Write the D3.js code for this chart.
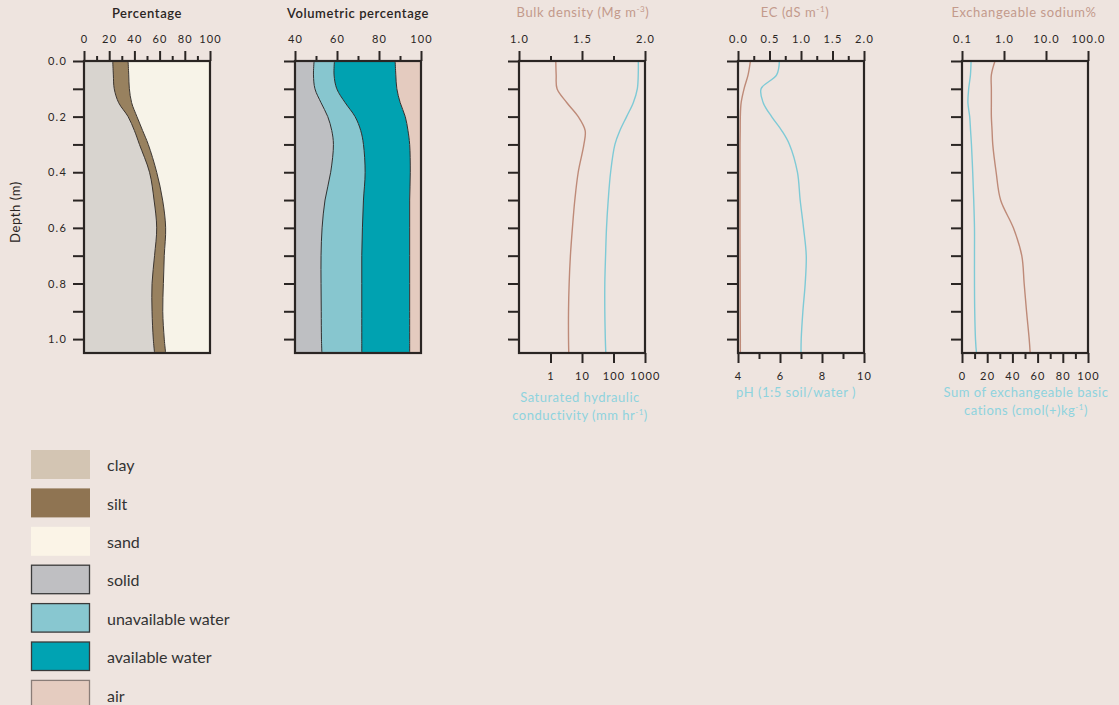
<!DOCTYPE html>
<html><head><meta charset="utf-8">
<script src="https://cdn.jsdelivr.net/npm/d3@7"></script>
<style>
html,body{margin:0;padding:0;background:#EEE4DF;}
svg{display:block;font-family:Lato,"Open Sans",sans-serif;}
</style></head><body>
<svg id="c" width="1119" height="705"></svg>
<script>
// ---- data ----
const depths    = [0, 0.05, 0.1, 0.15, 0.2, 0.25, 0.3, 0.4, 0.5, 0.6, 0.7, 0.8, 0.9, 1.0, 1.05];
// particle size (%)
const clay      = [22.8, 23.3, 24.0, 27.5, 35.0, 40.0, 44.0, 52.0, 55.6, 57.7, 56.0, 54.0, 54.0, 55.0, 56.0];
const silt      = [12.2, 12.2, 12.0, 10.3, 7.0, 6.5, 7.0, 5.7, 6.8, 7.1, 7.7, 9.0, 8.5, 8.7, 8.8];
const sand      = [65.0, 64.5, 64.0, 62.2, 58.0, 53.5, 49.0, 42.3, 37.6, 35.2, 36.3, 37.0, 37.5, 36.3, 35.2];
// volumetric (%)
const solid     = [49.1, 48.8, 49.5, 52.4, 55.6, 57.5, 58.3, 57.0, 54.3, 52.9, 52.4, 52.4, 52.5, 52.6, 52.8];
const unavail   = [9.7, 9.8, 10.4, 11.5, 13.0, 13.8, 14.3, 16.4, 18.3, 19.2, 19.4, 19.4, 19.3, 19.2, 19.0];
const avail     = [28.9, 29.4, 28.6, 26.2, 23.9, 22.5, 22.0, 21.5, 22.0, 22.5, 22.8, 22.8, 22.8, 22.8, 22.8];
const air       = [12.3, 12.0, 11.5, 9.9, 7.5, 6.2, 5.4, 5.1, 5.4, 5.4, 5.4, 5.4, 5.4, 5.4, 5.4];
// bulk density (Mg m-3) and Ksat (mm/hr)
const bulkDensity = [1.292, 1.295, 1.302, 1.38, 1.47, 1.525, 1.515, 1.47, 1.443, 1.424, 1.408, 1.398, 1.393, 1.393, 1.395];
const ksat        = [614, 610, 570, 425, 261, 160, 111, 81, 68, 60, 56, 53, 53, 55, 57];
// EC (dS/m) and pH
const ec          = [0.197, 0.16, 0.096, 0.05, 0.037, 0.035, 0.032, 0.032, 0.032, 0.032, 0.033, 0.034, 0.035, 0.037, 0.037];
const ph          = [5.97, 5.84, 5.10, 5.20, 5.60, 6.08, 6.45, 6.83, 6.96, 7.12, 7.25, 7.20, 7.09, 7.01, 7.00];
// ESP (%) and sum of exchangeable basic cations
const esp         = [0.61, 0.50, 0.50, 0.50, 0.50, 0.52, 0.54, 0.65, 0.83, 1.67, 2.65, 3.02, 3.44, 3.98, 4.2];
const cations     = [7.2, 6.7, 5.3, 4.7, 6.1, 6.8, 7.5, 8.5, 9.3, 9.9, 9.9, 9.9, 10.1, 10.7, 11.5];

// tick values / labels
const depthTicks   = [0,0.1,0.2,0.3,0.4,0.5,0.6,0.7,0.8,0.9,1.0];
const depthLabels  = ["0.0","","0.2","","0.4","","0.6","","0.8","","1.0"];
const pctMajor     = [0,20,40,60,80,100];
const pctMinor     = [10,30,50,70,90];
const volMajor     = [40,60,80,100];
const volMinor     = [50,70,90];
const bdMajor      = [1.0,1.5,2.0];
const bdMinor      = [1.25,1.75];
const ksatTicks    = [1,10,100,1000];
const ecMajor      = [0,0.5,1.0,1.5,2.0];
const ecMinor      = [0.25,0.75,1.25,1.75];
const phMajor      = [4,6,8,10];
const phMinor      = [5,7,9];
const espTicks     = [0.1,1,10,100];
const espLabels    = ["0.1","1.0","10.0","100.0"];
const catMajor     = [0,20,40,60,80,100];
const catMinor     = [10,30,50,70,90];

const legendNames  = ["clay","silt","sand","solid","unavailable water","available water","air"];

// ---- styles ----
const INK = "#2a2523";
const BROWN = "#BE8A78", CYAN = "#7ECAD6";
const BROWN_T = "#C39A8C", CYAN_T = "#8ED3DE";
const fillPct = ["#D8D4CF","#98815F","#F7F3E8"];
const fillVol = ["#BEBFC2","#87C6CF","#00A2B1","#E4CBBF"];
const legendFill = ["#D3C5B3","#8F7452","#FBF4E7","#BFBFC2","#88C7D0","#00A3B3","#E5CCC0"];
const legendStroke = [null,null,null,"#3a3a3a","#3a3a3a","#3a3a3a","#8a7d78"];

const svg = d3.select("#c");
const TOP = 61, BOT = 353, W = 126;
const y = d3.scaleLinear().domain([0,1.05]).range([TOP,BOT]);
const lefts = [84, 295, 519, 738, 962];
const curve = d3.curveCatmullRom.alpha(0.5);

function styleAxis(g){
  g.select(".domain").remove();
  g.selectAll(".tick line").attr("stroke",INK).attr("stroke-width",2);
  g.selectAll(".tick text").attr("fill",INK).attr("font-size",11).attr("letter-spacing","1.2px")
    .attr("font-family","Lato, 'Open Sans', sans-serif");
}
function topAxis(x, major, minor, fmt){
  if (minor.length) svg.append("g").attr("transform",`translate(0,${TOP})`)
    .call(d3.axisTop(x).tickValues(minor).tickSize(5).tickFormat("")).call(styleAxis);
  svg.append("g").attr("transform",`translate(0,${TOP})`)
    .call(d3.axisTop(x).tickValues(major).tickSize(10).tickPadding(8).tickFormat(fmt)).call(styleAxis);
}
function bottomAxis(x, major, minor, fmt){
  if (minor.length) svg.append("g").attr("transform",`translate(0,${BOT})`)
    .call(d3.axisBottom(x).tickValues(minor).tickSize(6).tickFormat("")).call(styleAxis);
  svg.append("g").attr("transform",`translate(0,${BOT})`)
    .call(d3.axisBottom(x).tickValues(major).tickSize(10).tickPadding(9).tickFormat(fmt)).call(styleAxis);
}
function leftAxis(left, labels){
  svg.append("g").attr("transform",`translate(${left},0)`)
    .call(d3.axisLeft(y).tickValues(depthTicks).tickSize(11).tickPadding(6)
      .tickFormat((d,i)=> labels ? depthLabels[i] : "")).call(styleAxis);
}
function frame(left){
  svg.append("rect").attr("x",left).attr("y",TOP).attr("width",W).attr("height",BOT-TOP)
    .attr("fill","none").attr("stroke",INK).attr("stroke-width",2.2);
}
function title(cx, yy, parts, color, weight){
  const t = svg.append("text").attr("x",cx).attr("y",yy).attr("text-anchor","middle")
    .attr("font-size",13).attr("fill",color).attr("letter-spacing","0.6px");
  if (weight) t.attr("font-weight",weight);
  parts.forEach(p=>{
    const ts = t.append("tspan").text(p.t);
    if (p.sup){ ts.attr("font-size",8).attr("baseline-shift","super"); }
  });
  return t;
}

function stackPanel(id, left, x, baseVal, topVal, series, fills, lineColor){
  svg.append("clipPath").attr("id",id).append("rect").attr("x",left).attr("y",TOP).attr("width",W).attr("height",BOT-TOP);
  const g = svg.append("g").attr("clip-path",`url(#${id})`);
  const bounds = [depths.map(()=>baseVal)];
  series.forEach(s=>{
    const prev = bounds[bounds.length-1];
    bounds.push(prev.map((v,i)=>v+s[i]));
  });
  series.forEach((s,k)=>{
    const lo = bounds[k], hi = bounds[k+1], last = k===series.length-1;
    const area = d3.area().curve(curve).y((d,i)=>y(depths[i]))
      .x0((d,i)=>x(lo[i])).x1((d,i)=>x(last?topVal:hi[i]));
    g.append("path").datum(depths).attr("d",area).attr("fill",fills[k]);
  });
  bounds.slice(1,-1).forEach(b=>{
    g.append("path").datum(depths).attr("fill","none").attr("stroke",lineColor).attr("stroke-width",1)
      .attr("d",d3.line().curve(curve).y((d,i)=>y(depths[i])).x((d,i)=>x(b[i])));
  });
}

// ---- Panel 1: Percentage ----
{
  const left = lefts[0];
  const x = d3.scaleLinear().domain([0,100]).range([left,left+W]);
  stackPanel("cp1",left,x,0,100,[clay,silt,sand],fillPct,"#3b3530");
  leftAxis(left,true);
  topAxis(x,pctMajor,pctMinor,d=>d);
  frame(left);
  title(left+W/2,18,[{t:"Percentage"}],INK,"600");
}

// ---- Panel 2: Volumetric percentage ----
{
  const left = lefts[1];
  const x = d3.scaleLinear().domain([40,100]).range([left,left+W]);
  const solidAbove40 = solid.map(v=>v-40);
  stackPanel("cp2",left,x,40,100,[solidAbove40,unavail,avail,air],fillVol,"#2f3030");
  leftAxis(left,false);
  topAxis(x,volMajor,volMinor,d=>d);
  frame(left);
  title(left+W/2,18,[{t:"Volumetric percentage"}],INK,"600");
}

function profileLine(id,left,x,vals,color){
  svg.append("clipPath").attr("id",id).append("rect").attr("x",left).attr("y",TOP).attr("width",W).attr("height",BOT-TOP);
  svg.append("g").attr("clip-path",`url(#${id})`).append("path").datum(depths)
    .attr("fill","none").attr("stroke",color).attr("stroke-width",1.4)
    .attr("d",d3.line().curve(curve).y((d,i)=>y(depths[i])).x((d,i)=>x(vals[i])));
}

// ---- Panel 3: Bulk density / Ksat ----
{
  const left = lefts[2];
  const xt = d3.scaleLinear().domain([1.0,2.0]).range([left,left+W]);
  const xb = d3.scaleLog().domain([0.1,1000]).range([left,left+W]);
  profileLine("cp3a",left,xt,bulkDensity,BROWN);
  profileLine("cp3b",left,xb,ksat,CYAN);
  leftAxis(left,false);
  topAxis(xt,bdMajor,bdMinor,d3.format(".1f"));
  bottomAxis(xb,ksatTicks,[],d=>d);
  frame(left);
  title(left+W/2+1,17,[{t:"Bulk density (Mg m"},{t:"-3",sup:true},{t:")"}],BROWN_T);
  svg.append("text").attr("x",left+W/2-2).attr("y",402).attr("text-anchor","middle").attr("font-size",13)
    .attr("fill",CYAN_T).attr("letter-spacing","0.5px").text("Saturated hydraulic");
  const t = svg.append("text").attr("x",left+W/2-2).attr("y",420).attr("text-anchor","middle").attr("font-size",13)
    .attr("fill",CYAN_T).attr("letter-spacing","0.5px");
  t.append("tspan").text("conductivity (mm hr");
  t.append("tspan").attr("font-size",8).attr("baseline-shift","super").text("-1");
  t.append("tspan").text(")");
}

// ---- Panel 4: EC / pH ----
{
  const left = lefts[3];
  const xt = d3.scaleLinear().domain([0,2]).range([left,left+W]);
  const xb = d3.scaleLinear().domain([4,10]).range([left,left+W]);
  profileLine("cp4a",left,xt,ec,BROWN);
  profileLine("cp4b",left,xb,ph,CYAN);
  leftAxis(left,false);
  topAxis(xt,ecMajor,ecMinor,d3.format(".1f"));
  bottomAxis(xb,phMajor,phMinor,d=>d);
  frame(left);
  title(left+W/2-6,17,[{t:"EC (dS m"},{t:"-1",sup:true},{t:")"}],BROWN_T);
  svg.append("text").attr("x",left+W/2-5).attr("y",397).attr("text-anchor","middle").attr("font-size",13)
    .attr("fill",CYAN_T).attr("letter-spacing","0.5px").text("pH (1:5 soil/water )");
}

// ---- Panel 5: ESP / cations ----
{
  const left = lefts[4];
  const xt = d3.scaleLog().domain([0.1,100]).range([left,left+W]);
  const xb = d3.scaleLinear().domain([0,100]).range([left,left+W]);
  profileLine("cp5a",left,xt,esp,BROWN);
  profileLine("cp5b",left,xb,cations,CYAN);
  leftAxis(left,false);
  topAxis(xt,espTicks,[],(d,i)=>espLabels[i]);
  bottomAxis(xb,catMajor,catMinor,d=>d);
  frame(left);
  title(left+W/2-1,17,[{t:"Exchangeable sodium%"}],BROWN_T);
  svg.append("text").attr("x",left+W/2+1).attr("y",397).attr("text-anchor","middle").attr("font-size",13)
    .attr("fill",CYAN_T).attr("letter-spacing","0.5px").text("Sum of exchangeable basic");
  const t = svg.append("text").attr("x",left+W/2+1).attr("y",415).attr("text-anchor","middle").attr("font-size",13)
    .attr("fill",CYAN_T).attr("letter-spacing","0.5px");
  t.append("tspan").text("cations (cmol(+)kg");
  t.append("tspan").attr("font-size",8).attr("baseline-shift","super").text("-1");
  t.append("tspan").text(")");
}

// Depth label
svg.append("text").attr("transform","translate(20,212) rotate(-90)").attr("text-anchor","middle")
  .attr("font-size",13).attr("fill",INK).attr("letter-spacing","0.6px").text("Depth (m)");

// ---- Legend ----
const lg = svg.append("g");
legendNames.forEach((n,i)=>{
  const yy = 450 + i*38.4;
  const r = lg.append("rect").attr("x",31).attr("y",yy).attr("width",59).attr("height",29).attr("fill",legendFill[i]);
  if (legendStroke[i]) r.attr("stroke",legendStroke[i]).attr("stroke-width",1.3).attr("x",31.5).attr("width",58).attr("height",28.5);
  lg.append("text").attr("x",107).attr("y",yy+15.5).attr("dy","0.35em").attr("font-size",16)
    .attr("fill","#333").text(n);
});
</script>
</body></html>
